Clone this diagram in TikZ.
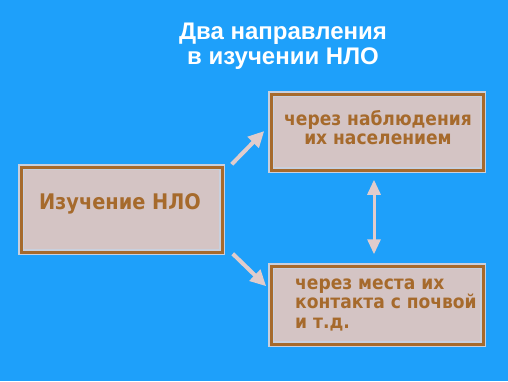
\documentclass[tikz,border=0pt]{standalone}
\usepackage{fontspec}
\setmainfont{DejaVu Sans}
\newfontfamily\titlefont{Liberation Sans}
\newfontfamily\boxfont{DejaVu Sans Condensed}
\usetikzlibrary{arrows.meta,calc}
\definecolor{bg}{RGB}{30,160,250}
\definecolor{boxfill}{RGB}{212,196,196}
\definecolor{brownc}{RGB}{166,106,44}
\definecolor{edgec}{RGB}{200,208,222}
\definecolor{arrowc}{RGB}{224,204,204}
\begin{document}
\begin{tikzpicture}[x=1pt,y=-1pt,
  box/.style={rectangle, fill=boxfill, draw=edgec, double=brownc, double distance=3pt, line width=1.5pt, inner sep=0pt},
  btext/.style={text=brownc, font=\boxfont\bfseries\fontsize{19}{19.5}\selectfont, inner sep=0pt},
  arr/.style={draw=arrowc, line width=4pt, -{Triangle[length=16pt,width=15pt]}},
  darr/.style={draw=arrowc, line width=3pt, {Triangle[length=15pt,width=13pt]}-{Triangle[length=15pt,width=13pt]}}]
\fill[bg] (0,0) rectangle (508,381);
\useasboundingbox (0,0) rectangle (508,381);
\node[box, minimum width=201pt, minimum height=85pt] (left) at (121.5,209.5) {};
\node[box, minimum width=212pt, minimum height=76pt] (top) at (377,132) {};
\node[box, minimum width=212pt, minimum height=78pt] (bot) at (377,305) {};
\node[text=white, font=\titlefont\bfseries\fontsize{24}{25}\selectfont, align=center, inner sep=0pt] (title) at (283,46.5) {Два направления\\в изучении НЛО};
\node[btext, font=\boxfont\bfseries\fontsize{21.5}{24}\selectfont] (t1) at (120,204) {Изучение НЛО};
\node[btext, align=center] (t2) at (378,127.5) {через наблюдения\\их населением};
\node[btext, align=left, anchor=west] (t3) at (295,304.5) {через места их\\контакта с почвой\\и т.д.};
\draw[arr] ($(left.north east)+(9,-2)$) -- ($(top.west)+(-6,-1)$);
\draw[arr] ($(left.south east)+(10,1)$) -- ($(bot.north west)+(-4,21)$);
\draw[darr] ($(top.south)+(-3,9)$) -- ($(bot.north)+(-3,-11)$);
\end{tikzpicture}
\end{document}
